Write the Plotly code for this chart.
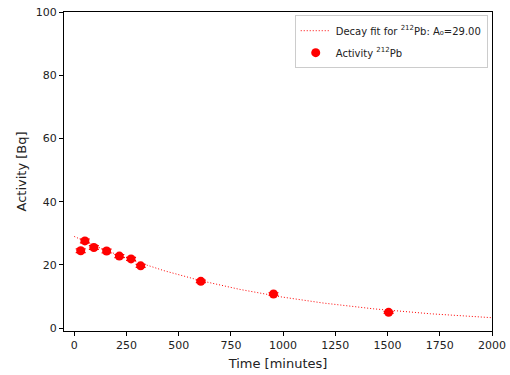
import numpy as np
import plotly.graph_objects as go

# Measured activity of 212Pb
time_min = [31, 51, 94, 155, 216, 272, 318, 606, 954, 1505]
activity_bq = [24.5, 27.6, 25.5, 24.4, 22.8, 21.9, 19.7, 14.8, 10.8, 5.0]
activity_err = [0.6, 0.6, 0.6, 0.6, 0.5, 0.5, 0.5, 0.4, 0.4, 0.3]

# Fit parameters
A0 = 29.00
half_life_min = 10.64 * 60  # 212Pb half-life
fit_t = np.linspace(0, 2000, 300)
fit_a = A0 * np.exp(-np.log(2) * fit_t / half_life_min)

fig = go.Figure()
fig.add_trace(go.Scatter(
    x=fit_t, y=fit_a, mode="lines",
    line=dict(color="red", width=1, dash="1px,2px"),
    name="Decay fit for <sup>212</sup>Pb: A₀=29.00", legendgroup="fit",
))
fig.add_trace(go.Scatter(
    x=time_min, y=activity_bq, mode="markers",
    marker=dict(color="red", size=9),
    error_y=dict(type="data", array=activity_err, color="red", thickness=1.2, width=5),
    name="Activity <sup>212</sup>Pb", legendgroup="data",
))

axis_common = dict(
    showline=True, linecolor="black", linewidth=1, mirror=True, automargin=False,
    ticks="outside", ticklen=4, tickcolor="black", showgrid=False, zeroline=False,
    tickfont=dict(family="DejaVu Sans", size=11, color="#222"),
)
fig.update_layout(
    width=510, height=375,
    margin=dict(l=64, r=18, t=12, b=44),
    paper_bgcolor="white", plot_bgcolor="white",
    font=dict(family="DejaVu Sans", size=11, color="#222"),
    xaxis=dict(range=[-49, 2000], tickvals=[0, 250, 500, 750, 1000, 1250, 1500, 1750, 2000],
               title=dict(text="Time [minutes]", standoff=7), **axis_common),
    yaxis=dict(range=[-0.9, 100], tickvals=[0, 20, 40, 60, 80, 100],
               title=dict(text="Activity [Bq]", standoff=6), **axis_common),
    legend=dict(x=0.99, y=0.99, xanchor="right", yanchor="top",
                bgcolor="white", bordercolor="#ccc", borderwidth=1,
                font=dict(family="DejaVu Sans", size=10, color="#222"),
                itemwidth=30, tracegroupgap=3),
    showlegend=True,
)
fig.write_html("out.html")
